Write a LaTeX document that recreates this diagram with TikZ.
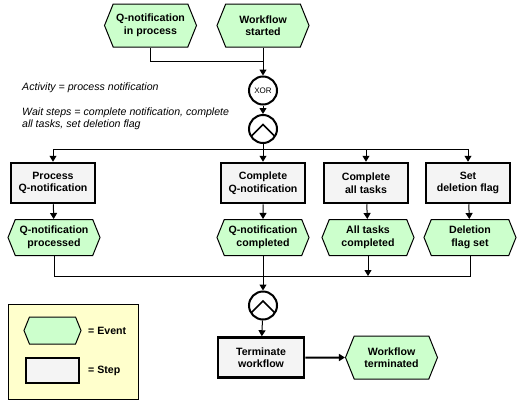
\documentclass[tikz,border=0pt]{standalone}
\usepackage{fontspec}
\setmainfont{Liberation Sans}
\usetikzlibrary{arrows.meta,shapes.symbols}
\definecolor{EvGreen}{RGB}{204,255,204}
\definecolor{StepGray}{RGB}{244,244,244}
\definecolor{NoteYellow}{RGB}{255,255,204}
\tikzset{
  ev/.style={signal,signal to=west and east,signal pointer angle=136,draw=black,line width=1pt,
    fill=EvGreen,minimum width=92pt,minimum height=36pt,inner sep=1pt,align=center,
    font=\bfseries\fontsize{10.6}{12.5}\selectfont},
  stepbox/.style={rectangle,draw=black,line width=2.5pt,fill=StepGray,minimum width=84pt,
    minimum height=40pt,inner sep=1pt,align=center,font=\bfseries\fontsize{10.6}{12.5}\selectfont},
  gate/.style={circle,draw=black,line width=2pt,fill=white,minimum size=28pt,inner sep=0pt,
    font=\fontsize{8}{9}\selectfont},
  andgate/.style={gate,path picture={
    \draw[line width=1.6pt] ([shift={(-15pt,-10.5pt)}]path picture bounding box.center)
      -- ([shift={(0pt,4.5pt)}]path picture bounding box.center)
      -- ([shift={(15pt,-10.5pt)}]path picture bounding box.center);}},
  flow/.style={draw=black,line width=1pt},
  arr/.style={flow,-{Triangle[length=6pt,width=7pt]}},
  note/.style={anchor=west,inner sep=0pt,align=left,font=\itshape\fontsize{10.6}{12.5}\selectfont},
  key/.style={anchor=west,inner sep=0pt,font=\bfseries\fontsize{10.6}{12.5}\selectfont},
}

\begin{document}
\begin{tikzpicture}[x=1pt,y=-1pt]
    \useasboundingbox (0,0) rectangle (527,407);
    % start events
    \node[ev,minimum height=43pt] (inproc) at (150.5,25.5) {Q-notification\\in process};
    \node[ev,minimum height=43pt] (wfstart) at (263,25.5) {Workflow\\started};
    \node[gate] (xor) at (263,90.5) {XOR};
    \node[andgate] (split) at (263,129) {};
    \coordinate (j1) at (263,61);
    \coordinate (fork) at (263,149);
    % notes
    \node[note] (act) at (22,88) {Activity = process notification};
    \node[note] (wait) at (22,119) {Wait steps = complete notification, complete\\all tasks, set deletion flag};
    % steps and their events
    \node[stepbox] (sproc) at (53,183) {Process\\Q-notification};
    \node[stepbox] (scomp) at (263,183) {Complete\\Q-notification};
    \node[stepbox] (stasks) at (366,183) {Complete\\all tasks};
    \node[stepbox] (sflag) at (468,183) {Set\\deletion flag};
    \node[ev] (eproc) at (54,237.5) {Q-notification\\processed};
    \node[ev] (ecomp) at (263,237.5) {Q-notification\\completed};
    \node[ev] (etasks) at (368,237.5) {All tasks\\completed};
    \node[ev] (eflag) at (470,237.5) {Deletion\\flag set};
    \coordinate (j2) at (263,276);
    \node[andgate] (join) at (263,305.5) {};
    \node[stepbox,minimum width=86pt] (sterm) at (261,357.5) {Terminate\\workflow};
    \node[ev,minimum height=43pt] (eterm) at (391.5,357.5) {Workflow\\terminated};
    % legend
    \node[draw=black,line width=1pt,fill=NoteYellow,minimum width=130pt,minimum height=95pt,inner sep=0pt]
      (legend) at (73,351.5) {};
    \node[ev,minimum width=57pt,minimum height=27pt] (keyev) at (52.5,330.5) {};
    \node[stepbox,minimum width=53pt,minimum height=25pt] (keystep) at (52.5,370.5) {};
    \node[key] (keyevtxt) at (88,331) {= Event};
    \node[key] (keysteptxt) at (88,370.5) {= Step};
    % connectors
    \draw[flow] (inproc.south) |- (j1);
    \draw[arr] (wfstart) -- (xor);
    \draw[arr] (xor) -- (split);
    \draw[flow] (split) -- (fork);
    \foreach \s in {sproc,stasks,sflag}
      \draw[arr] (fork) -| (\s.north);
    \draw[arr] (fork) -- (scomp);
    \foreach \x/\y in {sproc/eproc,scomp/ecomp,stasks/etasks,sflag/eflag}
      \draw[arr] (\x) -- (\y);
    \draw[flow] (eproc.south) |- (j2);
    \draw[flow] (eflag.south) |- (j2);
    \draw[arr] (etasks.south) -- (etasks.south |- j2);
    \draw[arr] (ecomp) -- (join);
    \draw[arr] (join) -- (sterm);
    \draw[arr,line width=2pt] (sterm) -- (eterm);
\end{tikzpicture}
\end{document}
